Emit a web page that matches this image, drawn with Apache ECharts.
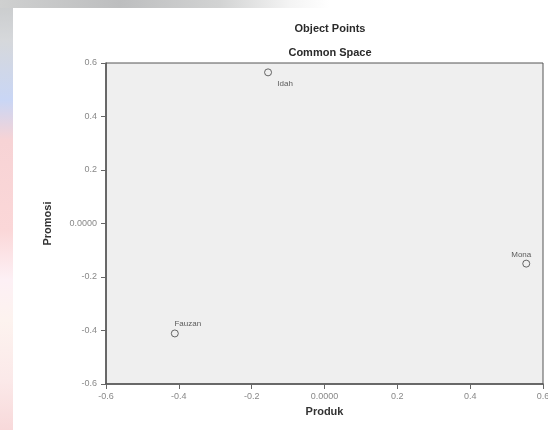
<!DOCTYPE html>
<html>
<head>
<meta charset="utf-8">
<script src="https://cdn.jsdelivr.net/npm/echarts@6/dist/echarts.min.js"></script>
<style>
  html, body { margin: 0; padding: 0; width: 548px; height: 430px; overflow: hidden; }
  body {
    position: relative;
    background: linear-gradient(to bottom, #c9cbcc 0px, #d6d8db 40px, #c9d6f5 100px, #f7d3d5 140px, #fbd7d8 230px, #fdf0f5 280px, #fdf3ef 320px, #fbe9e9 380px, #f8d9da 430px);
  }
  #topstrip {
    position: absolute; left: 0; top: 0; width: 548px; height: 8px;
    background: linear-gradient(to right, #cfd0d0 0px, #bdbebf 120px, #d2d3d3 220px, #f4f4f4 290px, #ffffff 330px);
  }
  #page { position: absolute; left: 13px; top: 8px; width: 535px; height: 422px; background: #ffffff; }
  #chart { position: absolute; left: 0; top: 0; width: 548px; height: 430px; filter: blur(0.5px); }
</style>
</head>
<body>
<div id="topstrip"></div>
<div id="page"></div>
<div id="chart"></div>
<script>
// Object points in the common space
const names   = ['Idah', 'Mona', 'Fauzan'];
const produk  = [-0.155, 0.554, -0.411];
const promosi = [0.565, -0.150, -0.411];
const axisTicks = [-0.6, -0.4, -0.2, 0, 0.2, 0.4, 0.6];

const labelOffsets = {
  Idah:   [17, 11],
  Mona:   [-5, -9],
  Fauzan: [13, -10]
};

const fmt = v => (Math.abs(v) < 1e-9 ? '0.0000' : v.toFixed(1));

const points = names.map((n, i) => ({
  name: n,
  value: [produk[i], promosi[i]],
  label: { offset: labelOffsets[n] }
}));

const axisCommon = {
  min: axisTicks[0],
  max: axisTicks[axisTicks.length - 1],
  interval: 0.2,
  splitLine: { show: false },
  axisLine: { onZero: false, lineStyle: { color: '#555', width: 1.5 } },
  axisTick: { show: true, inside: false, length: 5, lineStyle: { color: '#666' } },
  axisLabel: { formatter: fmt, color: '#888', fontSize: 9, fontFamily: 'Liberation Sans' },
  nameLocation: 'middle',
  nameTextStyle: { fontWeight: 'bold', fontSize: 11, color: '#333', fontFamily: 'Liberation Sans' }
};

const chart = echarts.init(document.getElementById('chart'), null, { renderer: 'canvas' });
chart.setOption({
  backgroundColor: 'transparent',
  animation: false,
  title: [
    { text: 'Object Points', left: 325, top: 18, textAlign: 'center',
      textStyle: { fontSize: 11, fontWeight: 'bold', color: '#2a2a2a', fontFamily: 'Liberation Sans' } },
    { text: 'Common Space', left: 325, top: 42, textAlign: 'center',
      textStyle: { fontSize: 11, fontWeight: 'bold', color: '#2a2a2a', fontFamily: 'Liberation Sans' } }
  ],
  grid: {
    left: 106, right: 5, top: 63, bottom: 46,
    outerBoundsMode: 'none',
    containLabel: false,
    show: true, backgroundColor: '#efefef', borderColor: '#555', borderWidth: 1
  },
  xAxis: Object.assign({}, axisCommon, {
    type: 'value', name: 'Produk', nameGap: 22,
    axisLabel: Object.assign({}, axisCommon.axisLabel, { margin: 8 })
  }),
  yAxis: Object.assign({}, axisCommon, {
    type: 'value', name: 'Promosi', nameGap: 53,
    axisLabel: Object.assign({}, axisCommon.axisLabel, { margin: 9 })
  }),
  series: [{
    type: 'scatter',
    symbol: 'circle',
    symbolSize: 7,
    itemStyle: { color: 'transparent', borderColor: '#444', borderWidth: 1 },
    label: {
      show: true,
      position: 'inside',
      formatter: p => p.name,
      fontSize: 8,
      color: '#333',
      fontFamily: 'Liberation Sans'
    },
    data: points
  }]
});
</script>
</body>
</html>
